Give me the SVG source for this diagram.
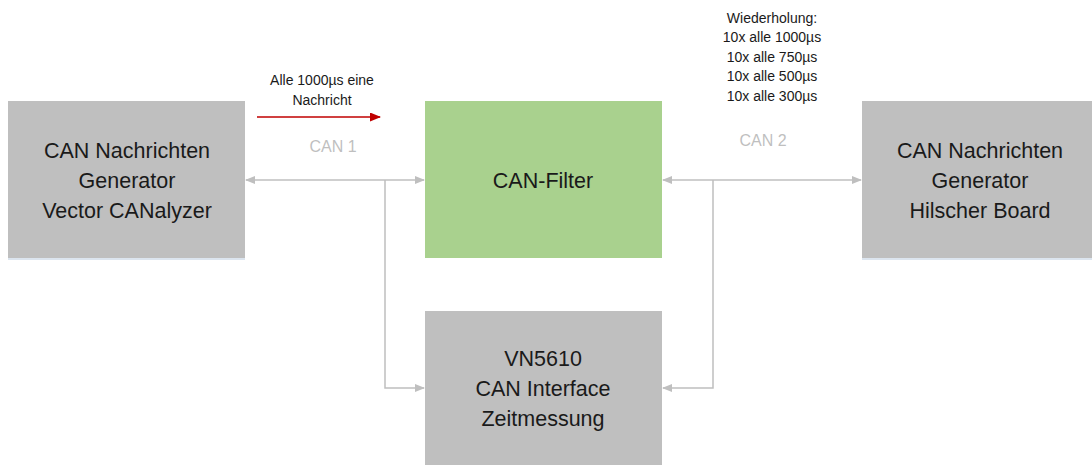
<svg xmlns="http://www.w3.org/2000/svg" width="1092" height="465" viewBox="0 0 1092 465">
<style>
.box{fill:#BFBFBF}
.green{fill:#A9D18E}
.shadow{fill:#DCE5EF}
.big{font-family:"Liberation Sans",Arial,sans-serif;font-size:21.5px;fill:#1a1a1a;text-anchor:middle}
.small{font-family:"Liberation Sans",Arial,sans-serif;font-size:14px;fill:#1a1a1a;text-anchor:middle}
.can{font-family:"Liberation Sans",Arial,sans-serif;font-size:16px;fill:#BFBFBF;text-anchor:middle}
.conn{fill:none;stroke:#BFBFBF;stroke-width:1.5}
</style>
<defs>
<marker id="ag" markerWidth="10" markerHeight="8" refX="9" refY="4" orient="auto-start-reverse" markerUnits="userSpaceOnUse">
<path d="M0,0 L10,4 L0,8 Z" fill="#BFBFBF"/>
</marker>
<marker id="ar" markerWidth="11" markerHeight="9" refX="10" refY="4.5" orient="auto" markerUnits="userSpaceOnUse">
<path d="M0,0 L11,4.5 L0,9 Z" fill="#C00000"/>
</marker>
</defs>
<g id="connectors">
<line class="conn" x1="246" y1="180" x2="424" y2="180" marker-start="url(#ag)" marker-end="url(#ag)"/>
<polyline class="conn" points="385,180 385,388 424,388" marker-end="url(#ag)"/>
<line class="conn" x1="663" y1="180" x2="861" y2="180" marker-start="url(#ag)" marker-end="url(#ag)"/>
<polyline class="conn" points="713,180 713,388 663,388" marker-end="url(#ag)"/>
<line x1="257" y1="117" x2="380" y2="117" stroke="#C00000" stroke-width="1.5" marker-end="url(#ar)"/>
</g>
<g id="labels">
<text class="small" x="322" y="85">Alle 1000µs eine</text>
<text class="small" x="322" y="105">Nachricht</text>
<text class="can" x="333" y="152">CAN 1</text>
<text class="can" x="763" y="146">CAN 2</text>
<text class="small" x="772" y="23">Wiederholung:</text>
<text class="small" x="772" y="42">10x alle 1000µs</text>
<text class="small" x="772" y="62">10x alle 750µs</text>
<text class="small" x="772" y="81">10x alle 500µs</text>
<text class="small" x="772" y="101">10x alle 300µs</text>
</g>
<g id="node-canalyzer">
<rect class="shadow" x="8" y="258" width="237" height="2"/>
<rect class="box" x="8" y="101" width="237" height="157"/>
<text class="big" x="127" y="158">CAN Nachrichten</text>
<text class="big" x="127" y="188">Generator</text>
<text class="big" x="127" y="218">Vector CANalyzer</text>
</g>
<g id="node-filter">
<rect class="green" x="425" y="101" width="237" height="157"/>
<text class="big" x="543" y="188">CAN-Filter</text>
</g>
<g id="node-hilscher">
<rect class="shadow" x="862" y="258" width="230" height="2"/>
<rect class="box" x="862" y="101" width="230" height="157"/>
<text class="big" x="980" y="158">CAN Nachrichten</text>
<text class="big" x="980" y="188">Generator</text>
<text class="big" x="980" y="218">Hilscher Board</text>
</g>
<g id="node-vn5610">
<rect class="box" x="425" y="311" width="237" height="154"/>
<text class="big" x="543" y="366">VN5610</text>
<text class="big" x="543" y="396">CAN Interface</text>
<text class="big" x="543" y="426">Zeitmessung</text>
</g>
</svg>
